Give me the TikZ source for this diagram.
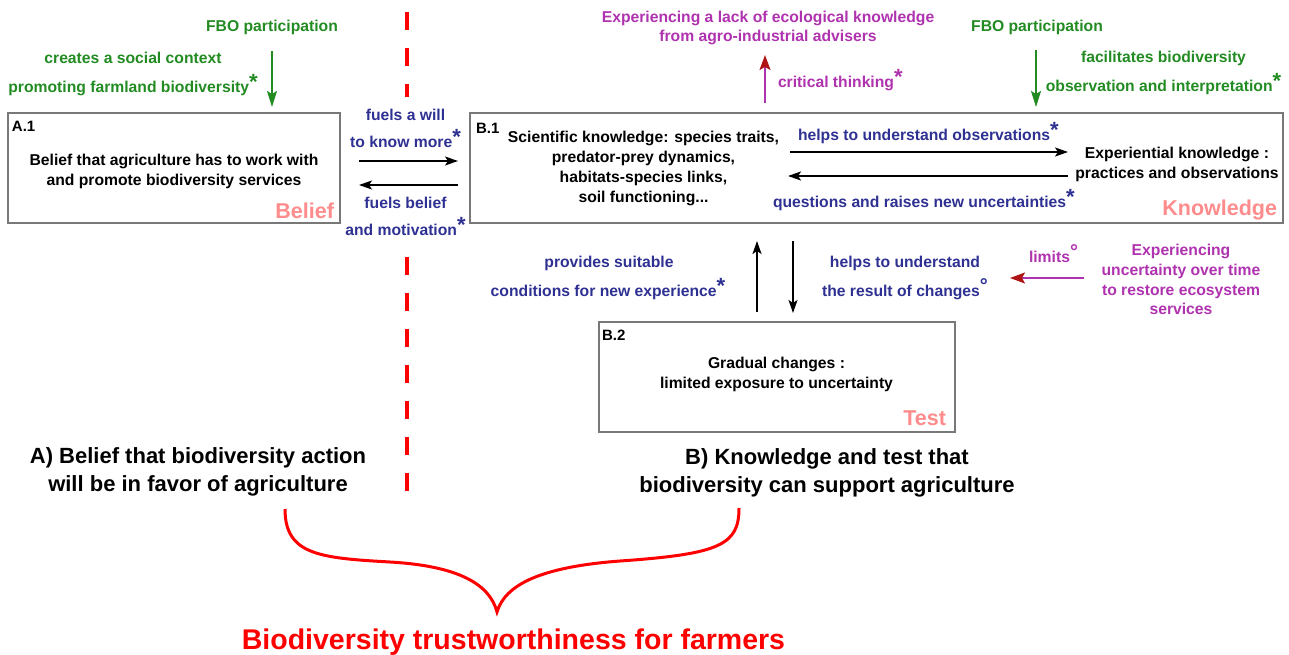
\documentclass[tikz,border=0pt]{standalone}
\usepackage{fontspec}
\setmainfont{Liberation Sans}
\usetikzlibrary{arrows.meta}
\definecolor{greenc}{RGB}{34,139,34}
\definecolor{navyc}{RGB}{46,49,146}
\definecolor{purplec}{RGB}{175,50,175}
\definecolor{darkredc}{RGB}{175,20,20}
\definecolor{pinkc}{RGB}{255,140,140}
\definecolor{redc}{RGB}{255,0,0}
\definecolor{boxgray}{RGB}{120,120,120}
\newcommand{\sstar}{\raisebox{3pt}{\fontsize{22}{22}\selectfont *}}
\newcommand{\sdeg}{\raisebox{4.5pt}{\fontsize{20}{20}\selectfont °}}
\begin{document}
\begin{tikzpicture}[x=1pt,y=-1pt,
  txt/.style={inner sep=0pt, outer sep=0pt, anchor=base, font=\bfseries\fontsize{15.7}{19}\selectfont},
  gtxt/.style={txt, text=greenc},
  ntxt/.style={txt, text=navyc},
  ptxt/.style={txt, text=purplec},
  idtxt/.style={txt, anchor=base west, font=\bfseries\fontsize{15}{18}\selectfont},
  pinklbl/.style={inner sep=0pt, outer sep=0pt, anchor=base east, text=pinkc, font=\bfseries\fontsize{21.5}{24}\selectfont},
  bigtxt/.style={inner sep=0pt, outer sep=0pt, anchor=base, font=\bfseries\fontsize{22}{26}\selectfont},
  redtxt/.style={inner sep=0pt, outer sep=0pt, anchor=base, text=redc, font=\bfseries\fontsize{28.5}{32}\selectfont},
  box/.style={draw=boxgray, line width=1.2pt, inner sep=0pt, outer sep=0pt, anchor=north west},
  arr/.style={draw=black, line width=1.8pt, -{Stealth[length=13pt,width=9pt,inset=3pt]}},
  garr/.style={draw=greenc, line width=1.7pt, -{Stealth[length=16pt,width=10pt,inset=3pt]}},
  parr/.style={draw=purplec, line width=1.7pt, -{Stealth[length=15pt,width=11pt,inset=3pt,color=darkredc]}},
  reddash/.style={draw=redc, line width=4pt, dash pattern=on 18pt off 18pt},
  bracestyle/.style={draw=redc, line width=3pt}
]
\useasboundingbox (0,0) rectangle (1289,655);

% boxes
\node[box, minimum width=332pt, minimum height=110pt] (A1) at (8,113) {};
\node[box, minimum width=813pt, minimum height=110pt] (B1) at (470,113) {};
\node[box, minimum width=356pt, minimum height=110pt] (B2) at (599,322) {};

% dashed separator
\coordinate (d1) at (407,12);
\coordinate (d2) at (407,97);
\coordinate (d3) at (407,257);
\coordinate (d4) at (407,492);
\draw[reddash] (d1) -- (d2);
\draw[reddash] (d3) -- (d4);

% box identifiers
\node[idtxt] (idA1) at (12,131.4) {A.1};
\node[idtxt] (idB1) at (476,133.4) {B.1};
\node[idtxt] (idB2) at (602,340.4) {B.2};

% box contents
\node[txt] (a1l1) at (174,165.6) {Belief that agriculture has to work with};
\node[txt] (a1l2) at (174,185.6) {and promote biodiversity services};
\node[pinklbl] (lblBelief) at (334,218.7) {Belief};

\node[txt] (sk1) at (643.5,142.6) {Scientific knowledge: species traits,};
\node[txt] (sk2) at (643.5,162.6) {predator-prey dynamics,};
\node[txt] (sk3) at (643.5,182.6) {habitats-species links,};
\node[txt] (sk4) at (643.5,202.6) {soil functioning...};
\node[txt] (ek1) at (1177,158.6) {Experiential knowledge :};
\node[txt] (ek2) at (1177,178.6) {practices and observations};
\node[pinklbl] (lblKnow) at (1277,215.7) {Knowledge};

\node[txt] (gc1) at (776.5,368.6) {Gradual changes :};
\node[txt] (gc2) at (776.5,388.6) {limited exposure to uncertainty};
\node[pinklbl] (lblTest) at (946,425.7) {Test};

% green labels
\node[gtxt] (fbo1) at (272,31.6) {FBO participation};
\node[gtxt] (soc1) at (133,63.6) {creates a social context};
\node[gtxt] (soc2) at (133,92.6) {promoting farmland biodiversity\sstar};
\node[gtxt] (fbo2) at (1037,31.6) {FBO participation};
\node[gtxt] (fac1) at (1163.5,62.6) {facilitates biodiversity};
\node[gtxt] (fac2) at (1163.5,91.6) {observation and interpretation\sstar};

% navy labels
\node[ntxt] (fw1) at (405.5,120.6) {fuels a will};
\node[ntxt] (fw2) at (405.5,147.6) {to know more\sstar};
\node[ntxt] (fb1) at (405.5,208.6) {fuels belief};
\node[ntxt] (fb2) at (405.5,235.6) {and motivation\sstar};
\node[ntxt, anchor=base west] (hu1) at (798,140.6) {helps to understand observations\sstar};
\node[ntxt, anchor=base west] (qr1) at (773,207.6) {questions and raises new uncertainties\sstar};
\node[ntxt] (ps1) at (609,267.6) {provides suitable};
\node[ntxt] (ps2) at (608,296.6) {conditions for new experience\sstar};
\node[ntxt] (hr1) at (905,267.6) {helps to understand};
\node[ntxt] (hr2) at (905,296.6) {the result of changes\sdeg};

% purple labels
\node[ptxt] (lk1) at (768,22.6) {Experiencing a lack of ecological knowledge};
\node[ptxt] (lk2) at (768,41.6) {from agro-industrial advisers};
\node[ptxt, anchor=base west] (ct1) at (778,87.6) {critical thinking\sstar};
\node[ptxt, anchor=base west] (lim1) at (1029,262.6) {limits\sdeg};
\node[ptxt] (eu1) at (1181,255.6) {Experiencing};
\node[ptxt] (eu2) at (1181,275.6) {uncertainty over time};
\node[ptxt] (eu3) at (1181,295.6) {to restore ecosystem};
\node[ptxt] (eu4) at (1181,314.6) {services};

% bottom labels
\node[bigtxt] (ba1) at (198,463) {A) Belief that biodiversity action};
\node[bigtxt] (ba2) at (198,491) {will be in favor of agriculture};
\node[bigtxt] (bb1) at (827,464.5) {B) Knowledge and test that};
\node[bigtxt] (bb2) at (827,492) {biodiversity can support agriculture};
\node[redtxt] (trust) at (513.5,649) {Biodiversity trustworthiness for farmers};

% arrow end points
\coordinate (g1s) at (272,51);   \coordinate (g1e) at (272,107);
\coordinate (g2s) at (1036,50);  \coordinate (g2e) at (1036,107);
\coordinate (abR1) at (359,161); \coordinate (abR2) at (458,161);
\coordinate (abL1) at (458,185); \coordinate (abL2) at (359,185);
\coordinate (seR1) at (790,152); \coordinate (seR2) at (1068,152);
\coordinate (seL1) at (1068,176); \coordinate (seL2) at (788,176);
\coordinate (ctS) at (765,103);  \coordinate (ctE) at (765,55);
\coordinate (upS) at (757,312);  \coordinate (upE) at (757,241);
\coordinate (dnS) at (793,241);  \coordinate (dnE) at (793,313);
\coordinate (limS) at (1084,278); \coordinate (limE) at (1010,278);

% arrows
\draw[garr] (g1s) -- (g1e);
\draw[garr] (g2s) -- (g2e);
\draw[arr] (abR1) -- (abR2);
\draw[arr] (abL1) -- (abL2);
\draw[arr] (seR1) -- (seR2);
\draw[arr] (seL1) -- (seL2);
\draw[parr] (ctS) -- (ctE);
\draw[arr] (upS) -- (upE);
\draw[arr] (dnS) -- (dnE);
\draw[parr] (limS) -- (limE);

% brace
\coordinate (brL) at (285,509);
\coordinate (brT) at (497,612);
\coordinate (brR) at (739,508);
\draw[bracestyle] (brL) .. controls (285,555) and (320,558) .. (390,562)
  .. controls (460,566) and (490,585) .. (brT)
  .. controls (505,585) and (540,567) .. (620,561)
  .. controls (720,554) and (739,545) .. (brR);
\end{tikzpicture}
\end{document}
